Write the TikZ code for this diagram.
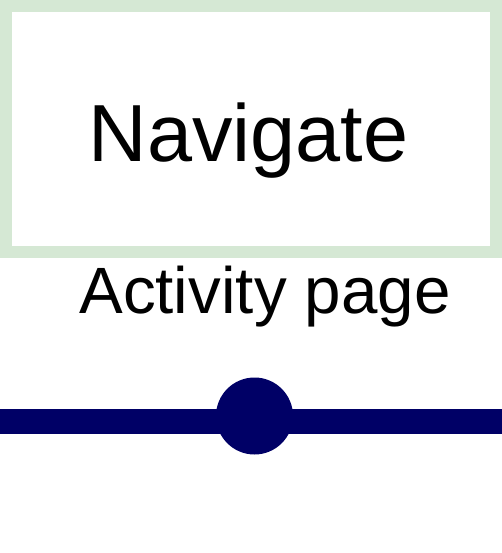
\documentclass[tikz,border=0pt]{standalone}
\usepackage{fontspec}
\setmainfont{Liberation Sans}
\definecolor{pagegreen}{RGB}{213, 232, 212}
\definecolor{tracknavy}{RGB}{0, 0, 102}
\usetikzlibrary{positioning}

\begin{document}
\begin{tikzpicture}[
    x=1pt, y=-1pt,
    navbox/.style={draw=pagegreen, line width=12pt, fill=white,
                minimum width=490pt, minimum height=246pt, inner sep=0pt},
    bigtext/.style={font=\fontsize{81}{97}\selectfont, inner sep=0pt, anchor=base},
    midtext/.style={font=\fontsize{65.5}{78}\selectfont, inner sep=0pt, anchor=base},
    track/.style={draw=tracknavy, line width=25pt},
    knob/.style={circle, fill=tracknavy, minimum size=77pt, inner sep=0pt},
  ]
    \useasboundingbox (0,0) rectangle (502,553);

    %% Box at the top
    \node[navbox] (nav) at (251, 129) {};
    \node[bigtext] (navlbl) at (248.5, 162) {Navigate};

    \node[midtext] (actlbl) at (265, 313) {Activity page};

    % Track with its knob
    \coordinate (trackL) at (0, 421.5);
    \coordinate (trackR) at (502, 421.5);
    \draw[track] (trackL) -- (trackR);
    \node[knob] (dot) at (254.5, 416) {};
  \end{tikzpicture}
\end{document}
